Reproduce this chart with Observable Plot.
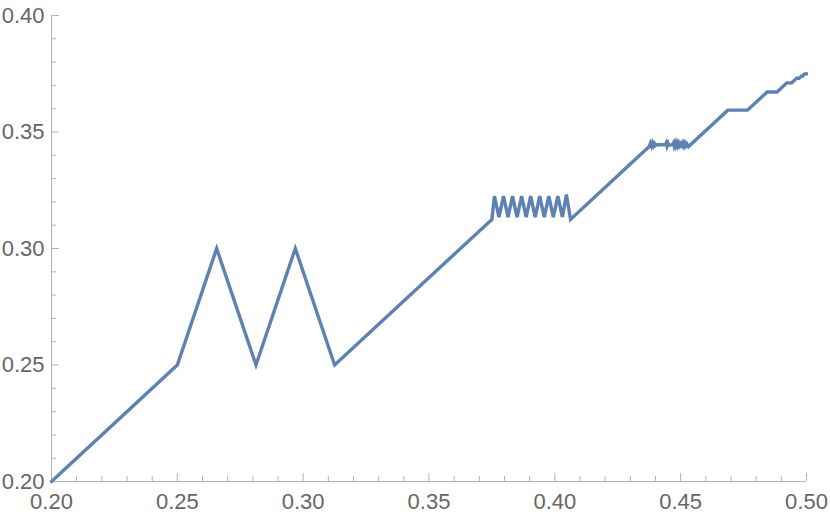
<!DOCTYPE html>
<html>
<head>
<meta charset="utf-8">
<script src="https://cdn.jsdelivr.net/npm/d3@7"></script>
<script src="https://cdn.jsdelivr.net/npm/@observablehq/plot@0.6"></script>
<style>
  html, body { margin: 0; padding: 0; background: #fff; }
  #chart { width: 830px; height: 521px; }
</style>
</head>
<body>
<div id="chart"></div>
<script>
// Line vertices
const xValues = [
  0.2, 0.25, 0.265625, 0.28125, 0.296875, 0.3125, 0.375,
  0.3760, 0.3778, 0.3796, 0.3814, 0.3832, 0.3850, 0.3868, 0.3886, 0.3904,
  0.3922, 0.3940, 0.3958, 0.3976, 0.3994, 0.4012, 0.4030, 0.4046, 0.40625,
  0.4375, 0.4380, 0.4384, 0.4388, 0.4392, 0.4396, 0.4400, 0.4404, 0.4425,
  0.4440, 0.4443, 0.4446, 0.4450, 0.4453, 0.4460, 0.4468, 0.4471, 0.4474,
  0.4478, 0.4481, 0.4485, 0.4489, 0.4493, 0.4497, 0.4501, 0.4505, 0.4509,
  0.4513, 0.4517, 0.4521, 0.4525, 0.453125,
  0.46875, 0.4765625, 0.484375, 0.48828125, 0.4921875, 0.494140625,
  0.49609375, 0.4970703125, 0.498046875, 0.49853515625, 0.4990234375, 0.5
];
const yValues = [
  0.2, 0.25, 0.30, 0.25, 0.30, 0.25, 0.3125,
  0.3225, 0.3135, 0.3225, 0.3135, 0.3225, 0.3135, 0.3225, 0.3135, 0.3225,
  0.3135, 0.3225, 0.3135, 0.3225, 0.3135, 0.3225, 0.3135, 0.3232, 0.3125,
  0.34375, 0.3452, 0.3440, 0.3453, 0.3441, 0.3450, 0.3442, 0.3446, 0.3445,
  0.3446, 0.3453, 0.3439, 0.3451, 0.3443, 0.3445, 0.3446, 0.3452, 0.3440,
  0.3453, 0.3441, 0.3454, 0.3440, 0.3452, 0.3441, 0.3450, 0.3442, 0.3453,
  0.3440, 0.3452, 0.3441, 0.3449, 0.34375,
  0.359375, 0.359375, 0.3671875, 0.3671875, 0.37109375, 0.37109375,
  0.373046875, 0.373046875, 0.3740234375, 0.3740234375, 0.374755859375, 0.375
];

const xMajorTicks = [0.20, 0.25, 0.30, 0.35, 0.40, 0.45, 0.50];
const xMinorTicks = [0.21, 0.22, 0.23, 0.24, 0.26, 0.27, 0.28, 0.29, 0.31, 0.32, 0.33, 0.34,
  0.36, 0.37, 0.38, 0.39, 0.41, 0.42, 0.43, 0.44, 0.46, 0.47, 0.48, 0.49];
const yMajorTicks = [0.20, 0.25, 0.30, 0.35, 0.40];
const yMinorTicks = [0.21, 0.22, 0.23, 0.24, 0.26, 0.27, 0.28, 0.29, 0.31, 0.32, 0.33, 0.34,
  0.36, 0.37, 0.38, 0.39];

const points = xValues.map((x, i) => ({x, y: yValues[i]}));

const W = 830, H = 521;
const mL = 51, mR = 24, mT = 15, mB = 40;
const frameW = W - mL - mR, frameH = H - mT - mB;
const axisColor = "#b3b3b3";
const labelColor = "#666666";
const fontSize = 22;

const chart = Plot.plot({
  width: W,
  height: H,
  marginLeft: mL,
  marginRight: mR,
  marginTop: mT,
  marginBottom: mB,
  style: {fontFamily: "'Liberation Sans', Arial, sans-serif", background: "#fff"},
  x: {domain: [0.2, 0.5]},
  y: {domain: [0.2, 0.4]},
  marks: [
    // axis lines
    Plot.ruleY([0.2], {stroke: axisColor, strokeWidth: 1}),
    Plot.ruleX([0.2], {stroke: axisColor, strokeWidth: 1}),
    // x ticks (pointing up into the plot)
    Plot.ruleX(xMajorTicks, {stroke: axisColor, strokeWidth: 1, insetTop: frameH - 8}),
    Plot.ruleX(xMinorTicks, {stroke: axisColor, strokeWidth: 1, insetTop: frameH - 5}),
    // y ticks (pointing right into the plot)
    Plot.ruleY(yMajorTicks, {stroke: axisColor, strokeWidth: 1, insetRight: frameW - 8}),
    Plot.ruleY(yMinorTicks, {stroke: axisColor, strokeWidth: 1, insetRight: frameW - 5}),
    // tick labels
    Plot.axisX({ticks: xMajorTicks, tickSize: 0, tickPadding: 12, tickFormat: d3.format(".2f"),
      fontSize, fill: labelColor, label: null}),
    Plot.axisY({ticks: yMajorTicks, tickSize: 0, tickPadding: 7, tickFormat: d3.format(".2f"),
      fontSize, fill: labelColor, label: null}),
    // the curve
    Plot.line(points, {x: "x", y: "y", stroke: "#5E81B5", strokeWidth: 3.4,
      strokeLinejoin: "miter", strokeMiterlimit: 4, curve: "linear"})
  ]
});
document.getElementById("chart").appendChild(chart);
</script>
</body>
</html>
